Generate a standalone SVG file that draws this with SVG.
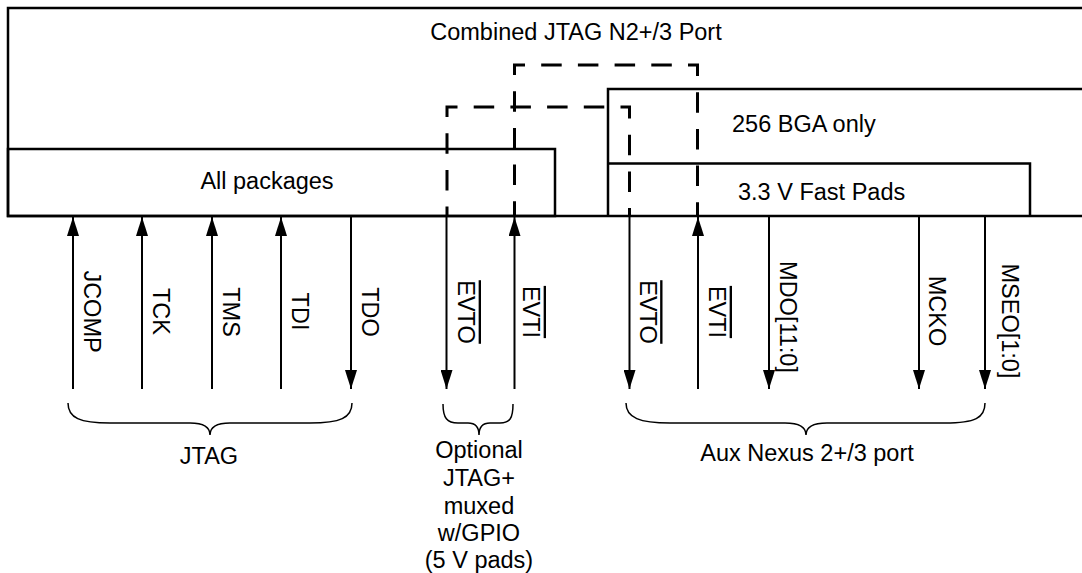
<svg xmlns="http://www.w3.org/2000/svg" width="1082" height="573" viewBox="0 0 1082 573">
  <defs>
    <marker id="ah" viewBox="0 0 19 12" refX="19" refY="6" markerWidth="19" markerHeight="12" markerUnits="userSpaceOnUse" orient="auto">
      <path d="M0,0 L19,6 L0,12 z" fill="#000"/>
    </marker>
    <style>
      .box { fill: none; stroke: #000; stroke-width: 2.5; }
      .dash { fill: none; stroke: #000; stroke-width: 3; stroke-dasharray: 20.5 16.2; }
      .sig { fill: none; stroke: #000; stroke-width: 2; marker-end: url(#ah); }
      .brace { fill: none; stroke: #000; stroke-width: 1.5; }
      text { font-family: "Liberation Sans", Arial, Helvetica, sans-serif; font-size: 23.5px; fill: #000; }
      .c { text-anchor: middle; }
      .ov { text-decoration: overline; }
    </style>
  </defs>
  <rect x="0" y="0" width="1082" height="573" fill="#fff"/>

  <g id="combined-port">
    <path class="box" d="M1082,8 H8 V216 H1082"/>
    <text class="c" x="576" y="40">Combined JTAG N2+/3 Port</text>
  </g>
  <g id="all-packages">
    <rect class="box" x="8" y="149" width="547" height="67"/>
    <text class="c" x="267" y="189">All packages</text>
  </g>
  <g id="bga-256">
    <path class="box" d="M1082,89 H608 V216"/>
    <text x="732" y="132">256 BGA only</text>
  </g>
  <g id="fast-pads">
    <path class="box" d="M608,163.5 H1030 V216"/>
    <text x="738" y="200">3.3 V Fast Pads</text>
  </g>
  <g id="optional-jtag-region">
    <path class="dash" style="stroke-dashoffset:12.1" d="M447,215 V107 H629.5 V215"/>
  </g>
  <g id="evt-region">
    <path class="dash" style="stroke-dashoffset:6.8" d="M514.5,215 V65 H697.5 V215"/>
  </g>

  <g id="connectors">
    <path class="sig" d="M73,389 V217"/>
    <path class="sig" d="M142,389 V217"/>
    <path class="sig" d="M212,389 V217"/>
    <path class="sig" d="M281,389 V217"/>
    <path class="sig" d="M351,217 V389"/>
    <path class="sig" d="M446.5,217 V389"/>
    <path class="sig" d="M514.5,389 V217"/>
    <path class="sig" d="M629.5,217 V389"/>
    <path class="sig" d="M698,389 V217"/>
    <path class="sig" d="M769,217 V389"/>
    <path class="sig" d="M919,217 V389"/>
    <path class="sig" d="M985,217 V389"/>
  </g>

  <g id="signal-labels">
    <text class="c" transform="translate(84,311.5) rotate(90)">JCOMP</text>
    <text class="c" transform="translate(153,311.5) rotate(90)">TCK</text>
    <text class="c" transform="translate(223,312) rotate(90)">TMS</text>
    <text class="c" transform="translate(292,311.5) rotate(90)">TDI</text>
    <text class="c" transform="translate(362,312) rotate(90)">TDO</text>
    <text class="c ov" transform="translate(458,312) rotate(90)">EVTO</text>
    <text class="c ov" transform="translate(523,312) rotate(90)">EVTI</text>
    <text class="c ov" transform="translate(639.5,312) rotate(90)">EVTO</text>
    <text class="c ov" transform="translate(709,312) rotate(90)">EVTI</text>
    <text class="c" transform="translate(779.5,317) rotate(90)">MDO[11:0]</text>
    <text class="c" transform="translate(928.5,311) rotate(90)">MCKO</text>
    <text class="c" transform="translate(1002,321) rotate(90)">MSEO[1:0]</text>
  </g>

  <g id="jtag-group">
    <path class="brace" d="M68,403 C68,418 80,423 110,423 L190,423 C205,423 210,428 210,435 C210,428 215,423 230,423 L310,423 C340,423 352,418 352,403"/>
    <text class="c" x="209" y="464">JTAG</text>
  </g>
  <g id="optional-group">
    <path class="brace" d="M443,404 C443,418 447,423 458,423 L468,423 C476,423 479,428 479,435 C479,428 482,423 490,423 L500,423 C510,423 513,418 513,404"/>
    <text class="c" x="479" y="458">Optional</text>
    <text class="c" x="479" y="486">JTAG+</text>
    <text class="c" x="479" y="513.5">muxed</text>
    <text class="c" x="479" y="541">w/GPIO</text>
    <text class="c" x="479" y="568">(5 V pads)</text>
  </g>
  <g id="aux-nexus-group">
    <path class="brace" d="M626,403 C626,418 640,423 670,423 L785,423 C801,423 806,428 806,435 C806,428 811,423 827,423 L945,423 C975,423 985,418 985,403"/>
    <text class="c" x="807" y="461">Aux Nexus 2+/3 port</text>
  </g>
</svg>
